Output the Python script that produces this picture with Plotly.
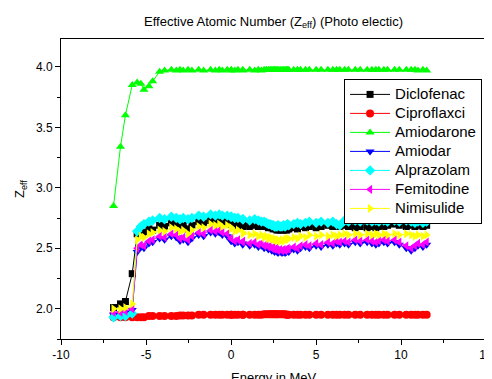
import plotly.graph_objects as go

# x = ln(Energy in MeV), standard photon-energy grid
energy_ln = [-6.91, -6.50, -6.21, -5.81, -5.52, -5.30, -5.12, -4.83, -4.61, -4.20,
             -3.91, -3.51, -3.22, -3.00, -2.81, -2.53, -2.30, -1.90, -1.61, -1.20,
             -0.92, -0.69, -0.51, -0.22, 0.00, 0.02, 0.22, 0.41, 0.69, 0.71,
             1.10, 1.39, 1.61, 1.79, 1.95, 2.08, 2.20, 2.30, 2.40, 2.48,
             2.56, 2.64, 2.71, 2.77, 2.89, 3.00, 3.09, 3.18, 3.26, 3.33,
             3.40, 3.69, 3.91, 4.09, 4.38, 4.61, 5.01, 5.30, 5.70, 5.99,
             6.21, 6.40, 6.68, 6.91, 7.31, 7.60, 8.01, 8.29, 8.52, 8.70,
             8.99, 9.21, 9.62, 9.90, 10.31, 10.60, 10.82, 11.00, 11.29, 11.51]

diclofenac = [2.01, 2.04, 2.06, 2.29, 2.62, 2.64, 2.63, 2.66, 2.65, 2.69,
              2.68, 2.71, 2.70, 2.68, 2.69, 2.66, 2.69, 2.72, 2.71, 2.73,
              2.72, 2.73, 2.71, 2.72, 2.70, 2.71, 2.69, 2.70, 2.68, 2.69,
              2.68, 2.69, 2.68, 2.69, 2.68, 2.69, 2.67, 2.68, 2.67, 2.66,
              2.67, 2.66, 2.65, 2.66, 2.65, 2.66, 2.65, 2.66, 2.65, 2.66,
              2.66, 2.67, 2.66, 2.68, 2.67, 2.68, 2.67, 2.68, 2.69, 2.68,
              2.69, 2.68, 2.69, 2.68, 2.67, 2.68, 2.67, 2.68, 2.67, 2.68,
              2.68, 2.69, 2.70, 2.69, 2.68, 2.69, 2.68, 2.69, 2.68, 2.69]

ciproflaxci = [1.93, 1.93, 1.93, 1.93, 1.93, 1.93, 1.93, 1.94, 1.94, 1.94,
               1.94, 1.94, 1.94, 1.945, 1.945, 1.945, 1.945, 1.95, 1.95, 1.95,
               1.95, 1.95, 1.95, 1.95, 1.95, 1.95, 1.95, 1.95, 1.95, 1.95,
               1.95, 1.95, 1.95, 1.95, 1.955, 1.955, 1.955, 1.955, 1.955, 1.955,
               1.955, 1.955, 1.955, 1.955, 1.955, 1.955, 1.955, 1.955, 1.95, 1.95,
               1.95, 1.95, 1.95, 1.95, 1.95, 1.95, 1.95, 1.95, 1.95, 1.95,
               1.95, 1.95, 1.95, 1.95, 1.95, 1.95, 1.95, 1.95, 1.95, 1.95,
               1.95, 1.95, 1.95, 1.95, 1.95, 1.95, 1.95, 1.95, 1.95, 1.95]

amiodarone = [2.85, 3.34, 3.60, 3.85, 3.87, 3.86, 3.81, 3.84, 3.88, 3.96,
              3.97, 3.975, 3.97, 3.975, 3.97, 3.975, 3.97, 3.975, 3.97, 3.975,
              3.97, 3.975, 3.97, 3.975, 3.97, 3.975, 3.97, 3.975, 3.975, 3.97,
              3.975, 3.97, 3.975, 3.97, 3.975, 3.975, 3.975, 3.975, 3.975, 3.975,
              3.975, 3.975, 3.975, 3.975, 3.975, 3.975, 3.975, 3.975, 3.975, 3.975,
              3.975, 3.975, 3.975, 3.975, 3.975, 3.975, 3.975, 3.975, 3.975, 3.975,
              3.975, 3.975, 3.975, 3.975, 3.975, 3.975, 3.975, 3.975, 3.975, 3.975,
              3.975, 3.975, 3.975, 3.975, 3.975, 3.975, 3.975, 3.97, 3.975, 3.97]

amiodar = [1.95, 1.96, 1.97, 1.99, 2.47, 2.51, 2.50, 2.54, 2.55, 2.58,
           2.57, 2.60, 2.59, 2.56, 2.57, 2.55, 2.58, 2.61, 2.60, 2.63,
           2.62, 2.63, 2.61, 2.60, 2.56, 2.56, 2.54, 2.55, 2.53, 2.54,
           2.52, 2.53, 2.51, 2.52, 2.50, 2.51, 2.49, 2.50, 2.48, 2.49,
           2.47, 2.48, 2.47, 2.46, 2.47, 2.46, 2.47, 2.46, 2.47, 2.48,
           2.47, 2.49, 2.48, 2.50, 2.51, 2.50, 2.52, 2.51, 2.53, 2.52,
           2.54, 2.53, 2.54, 2.53, 2.55, 2.54, 2.55, 2.54, 2.53, 2.54,
           2.55, 2.54, 2.55, 2.53, 2.50, 2.48, 2.50, 2.52, 2.51, 2.53]

alprazolam = [1.93, 1.94, 1.94, 1.96, 2.64, 2.68, 2.70, 2.72, 2.73, 2.75,
              2.74, 2.76, 2.75, 2.74, 2.75, 2.74, 2.75, 2.77, 2.76, 2.78,
              2.77, 2.78, 2.77, 2.77, 2.76, 2.76, 2.75, 2.75, 2.74, 2.74,
              2.73, 2.74, 2.73, 2.72, 2.72, 2.71, 2.70, 2.70, 2.69, 2.69,
              2.68, 2.68, 2.68, 2.69, 2.68, 2.68, 2.69, 2.68, 2.69, 2.70,
              2.69, 2.70, 2.71, 2.70, 2.71, 2.72, 2.71, 2.72, 2.71, 2.72,
              2.70, 2.69, 2.73, 2.72, 2.73, 2.72, 2.73, 2.72, 2.73, 2.72,
              2.73, 2.72, 2.73, 2.72, 2.73, 2.72, 2.71, 2.72, 2.71, 2.72]

femitodine = [1.97, 1.97, 1.98, 2.00, 2.50, 2.53, 2.52, 2.56, 2.57, 2.60,
              2.59, 2.62, 2.61, 2.58, 2.59, 2.57, 2.60, 2.63, 2.62, 2.65,
              2.64, 2.65, 2.63, 2.62, 2.58, 2.58, 2.56, 2.57, 2.55, 2.56,
              2.54, 2.55, 2.53, 2.54, 2.52, 2.53, 2.51, 2.52, 2.50, 2.51,
              2.49, 2.50, 2.49, 2.48, 2.49, 2.48, 2.49, 2.48, 2.49, 2.50,
              2.49, 2.51, 2.50, 2.52, 2.53, 2.52, 2.54, 2.53, 2.55, 2.54,
              2.56, 2.55, 2.56, 2.55, 2.57, 2.56, 2.57, 2.56, 2.55, 2.56,
              2.57, 2.56, 2.57, 2.55, 2.52, 2.50, 2.52, 2.54, 2.53, 2.55]

nimisulide = [2.00, 2.00, 2.01, 2.04, 2.57, 2.60, 2.59, 2.62, 2.63, 2.65,
              2.64, 2.67, 2.66, 2.64, 2.65, 2.62, 2.65, 2.68, 2.67, 2.70,
              2.69, 2.70, 2.68, 2.69, 2.66, 2.67, 2.64, 2.65, 2.62, 2.63,
              2.61, 2.62, 2.60, 2.61, 2.59, 2.60, 2.58, 2.59, 2.58, 2.57,
              2.58, 2.57, 2.56, 2.57, 2.56, 2.57, 2.56, 2.57, 2.58, 2.57,
              2.58, 2.59, 2.58, 2.60, 2.59, 2.61, 2.60, 2.61, 2.60, 2.61,
              2.60, 2.61, 2.62, 2.61, 2.62, 2.61, 2.62, 2.61, 2.62, 2.61,
              2.62, 2.61, 2.62, 2.61, 2.62, 2.61, 2.60, 2.61, 2.60, 2.61]

series_names = ["Diclofenac", "Ciproflaxci", "Amiodarone", "Amiodar",
                "Alprazolam", "Femitodine", "Nimisulide"]
series_values = [diclofenac, ciproflaxci, amiodarone, amiodar,
                 alprazolam, femitodine, nimisulide]
colors = ["#000000", "#FF0000", "#00FF00", "#0000FF", "#00FFFF", "#FF00FF", "#FFFF00"]
symbols = ["square", "circle", "triangle-up", "triangle-down", "diamond",
           "triangle-left", "triangle-right"]
sizes = [7, 8, 8, 8, 8, 8, 8]

y_ticks = [2.0, 2.5, 3.0, 3.5, 4.0]
x_ticks = [-10, -5, 0, 5, 10, 15]

FONT = "Arial, 'Liberation Sans', sans-serif"

fig = go.Figure()
for name, vals, c, s, sz in zip(series_names, series_values, colors, symbols, sizes):
    fig.add_trace(go.Scatter(
        x=energy_ln, y=vals, mode="lines+markers",
        name='<span style="font-size:15px">%s</span>' % name,
        line=dict(color=c, width=1),
        marker=dict(color=c, symbol=s, size=sz, line=dict(width=0)),
    ))

# page body adds an 8px offset, so the figure is 484x371
fig.update_layout(
    width=484, height=371,
    margin=dict(l=53, r=6, t=31, b=40, autoexpand=False),
    paper_bgcolor="white", plot_bgcolor="white",
    font=dict(family=FONT, size=12, color="black"),
    title=dict(text="Effective Atomic Number (Z<sub>eff</sub>) (Photo electic)",
               x=0.5486, xanchor="center", y=0.965, yanchor="middle",
               font=dict(size=13, family=FONT)),
    legend=dict(x=0.666, y=0.867, xanchor="left", yanchor="top",
                bordercolor="black", borderwidth=1, bgcolor="white",
                font=dict(size=12, family=FONT), tracegroupgap=0,
                itemwidth=40),
    showlegend=True,
    annotations=[dict(text="Energy in MeV", xref="paper", yref="paper",
                      x=0.5, y=-0.098, xanchor="center", yanchor="top",
                      showarrow=False, font=dict(size=13, family=FONT))],
)
fig.update_xaxes(
    range=[-10, 15], tickvals=x_ticks, ticktext=[str(v) for v in x_ticks],
    ticks="outside", ticklen=5, tickcolor="black", tickwidth=1,
    ticklabeloverflow="allow",
    minor=dict(dtick=2.5, ticks="outside", ticklen=3, tickcolor="black", showgrid=False),
    showline=True, linecolor="black", linewidth=1, mirror=True,
    showgrid=False, zeroline=False, automargin=False,
    tickfont=dict(size=12, family=FONT),
)
fig.update_yaxes(
    range=[1.75, 4.23], tickvals=y_ticks, ticktext=["%.1f" % v for v in y_ticks],
    ticks="outside", ticklen=5, tickcolor="black", tickwidth=1,
    minor=dict(dtick=0.25, tick0=0, ticks="outside", ticklen=3, tickcolor="black", showgrid=False),
    showline=True, linecolor="black", linewidth=1, mirror=True,
    showgrid=False, zeroline=False, automargin=False,
    tickfont=dict(size=12, family=FONT),
    title=dict(text="Z<sub>eff</sub>", font=dict(size=13, family=FONT), standoff=8),
)

fig.write_html("out.html")
